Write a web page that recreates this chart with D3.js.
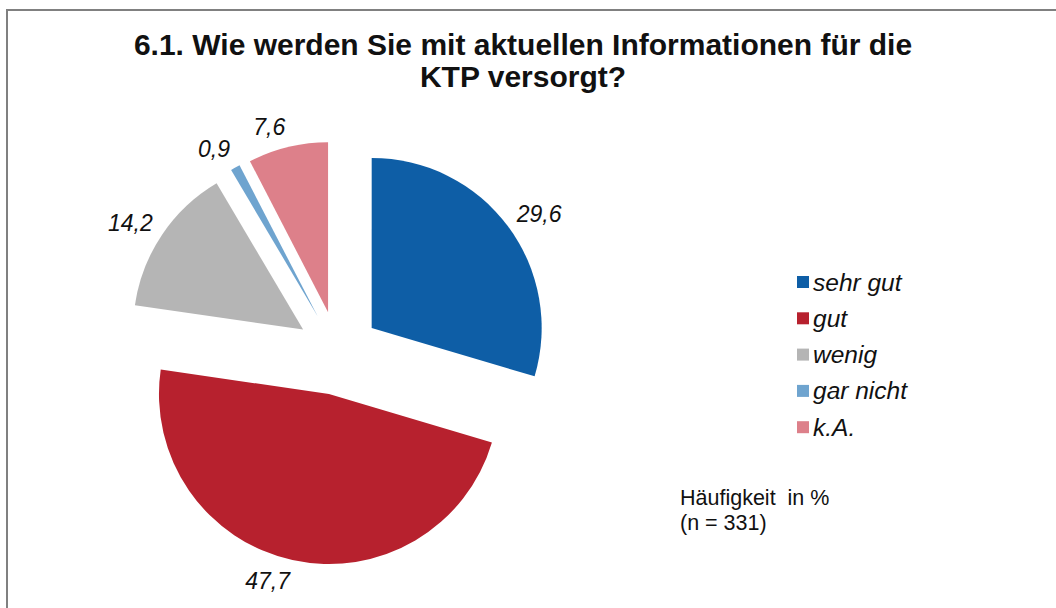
<!DOCTYPE html>
<html>
<head>
<meta charset="utf-8">
<script src="https://cdn.jsdelivr.net/npm/d3@7"></script>
<style>
  html, body { margin: 0; padding: 0; background: #fff; }
  svg { display: block; font-family: "Liberation Sans", Arial, sans-serif; }
</style>
</head>
<body>
<svg id="chart" width="1056" height="608"></svg>
<script>
const categories = ["sehr gut", "gut", "wenig", "gar nicht", "k.A."];
const values = [29.6, 47.7, 14.2, 0.9, 7.6];
const valueLabels = ["29,6", "47,7", "14,2", "0,9", "7,6"];
const colors = ["#0e5ea6", "#b7212e", "#b5b5b5", "#6fa4cf", "#dd808a"];
const titleLines = ["6.1. Wie werden Sie mit aktuellen Informationen für die", "KTP versorgt?"];
const noteLines = ["Häufigkeit  in %", "(n = 331)"];

const svg = d3.select("#chart");

// frame (top and left)
svg.append("line").attr("x1", 6).attr("y1", 10).attr("x2", 1056).attr("y2", 10)
  .attr("stroke", "#808080").attr("stroke-width", 2);
svg.append("line").attr("x1", 7).attr("y1", 9).attr("x2", 7).attr("y2", 608)
  .attr("stroke", "#808080").attr("stroke-width", 2);

// title
const title = svg.append("text").attr("text-anchor", "middle")
  .attr("font-weight", "bold").attr("font-size", 30).attr("fill", "#111");
titleLines.forEach((t, i) => {
  title.append("tspan").attr("x", 523).attr("y", 55 + i * 32).text(t);
});

// pie
const cx = 338, cy = 353, R = 170, explode = 42, labelR = 181;
const pie = d3.pie().sort(null).value(d => d)(values);
const arc = d3.arc().innerRadius(0).outerRadius(R);
const g = svg.append("g").attr("transform", `translate(${cx},${cy})`);

pie.forEach((p, i) => {
  const mid = (p.startAngle + p.endAngle) / 2;
  const dx = Math.sin(mid) * explode, dy = -Math.cos(mid) * explode;
  g.append("path").attr("d", arc(p)).attr("fill", colors[i])
    .attr("transform", `translate(${dx},${dy})`);
  const lx = dx + Math.sin(mid) * labelR;
  const ly = dy - Math.cos(mid) * labelR - Math.cos(mid) * 10;
  g.append("text")
    .attr("x", lx).attr("y", ly)
    .attr("dy", "0.35em")
    .attr("text-anchor", Math.sin(mid) >= 0 ? "start" : "end")
    .attr("font-style", "italic").attr("font-size", 23).attr("fill", "#111")
    .text(valueLabels[i]);
});

// legend
const leg = svg.append("g").attr("transform", "translate(797,282)");
categories.forEach((c, i) => {
  const row = leg.append("g").attr("transform", `translate(0,${i * 36.3})`);
  row.append("rect").attr("x", 0).attr("y", -6).attr("width", 12).attr("height", 12)
    .attr("fill", colors[i]);
  row.append("text").attr("x", 16).attr("y", 0).attr("dy", "0.35em")
    .attr("font-style", "italic").attr("font-size", 24.5).attr("fill", "#111").text(c);
});

// note
const note = svg.append("text").attr("font-size", 21.5).attr("fill", "#111")
  .style("white-space", "pre");
noteLines.forEach((t, i) => {
  note.append("tspan").attr("x", 680).attr("y", 505 + i * 25).text(t);
});
</script>
</body>
</html>
